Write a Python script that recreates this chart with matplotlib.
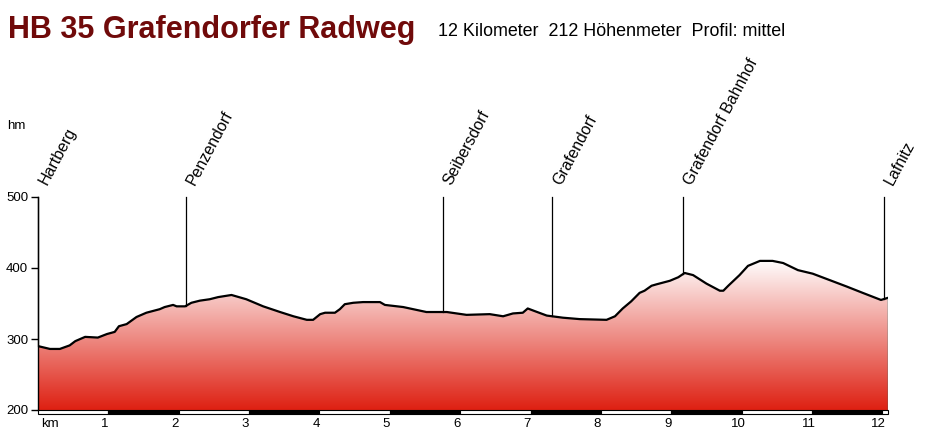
import matplotlib
matplotlib.use("Agg")
import matplotlib.pyplot as plt
import numpy as np
from matplotlib.colors import LinearSegmentedColormap
from matplotlib.patches import Rectangle

plt.rcParams['font.family'] = ['Liberation Sans', 'DejaVu Sans']

# profile data (km, hm)
km = [0.0, 0.17, 0.31, 0.45, 0.53, 0.67, 0.85, 0.98, 1.09, 1.15, 1.26, 1.40,
      1.54, 1.73, 1.80, 1.92, 1.97, 2.09, 2.18, 2.30, 2.44, 2.56, 2.75, 2.96,
      3.20, 3.44, 3.63, 3.82, 3.91, 4.01, 4.08, 4.22, 4.29, 4.36, 4.48, 4.62,
      4.86, 4.93, 5.19, 5.52, 5.81, 6.09, 6.42, 6.61, 6.75, 6.89, 6.96, 7.04,
      7.23, 7.46, 7.70, 8.08, 8.20, 8.31, 8.43, 8.55, 8.62, 8.72, 8.79, 8.98,
      9.10, 9.19, 9.31, 9.50, 9.69, 9.74, 9.81, 9.97, 10.09, 10.26, 10.44,
      10.59, 10.80, 11.01, 11.25, 11.49, 11.72, 11.98, 12.08]
hm = [290, 286, 286, 291, 297, 303, 302, 307, 310, 318, 321, 331,
      337, 342, 345, 348, 346, 346, 351, 354, 356, 359, 362, 356,
      346, 338, 332, 327, 327, 335, 337, 337, 342, 349, 351, 352,
      352, 348, 345, 338, 338, 334, 335, 332, 336, 337, 343, 340,
      333, 330, 328, 327, 332, 343, 353, 365, 368, 375, 377, 382,
      387, 393, 390, 378, 368, 368, 375, 390, 403, 410, 410,
      407, 397, 392, 383, 374, 365, 355, 358]

orte = ["Hartberg", "Penzendorf", "Seibersdorf", "Grafendorf",
        "Grafendorf Bahnhof", "Lafnitz"]
orte_km = [0.0, 2.1, 5.75, 7.31, 9.16, 12.02]

y_ticks = [200, 300, 400, 500]
x_ticks = list(range(1, 13))

km = np.array(km)
hm = np.array(hm)

fig = plt.figure(figsize=(9.38, 4.34), dpi=100)
W, H = 938, 434
ax = fig.add_axes([38 / W, 24 / H, 850 / W, 213 / H])
ax.set_xlim(0, km[-1])
ax.set_ylim(200, 500)

# gradient fill under the profile
cmap = LinearSegmentedColormap.from_list("rw", ["#de2012", "#ffffff"])
grad = np.linspace(0, 1, 256).reshape(-1, 1)
img = ax.imshow(grad, extent=[0, km[-1], 200, 412], origin='lower',
                cmap=cmap, aspect='auto', zorder=1)
poly = ax.fill_between(km, 200, hm, color='none', lw=0)
img.set_clip_path(poly.get_paths()[0], transform=ax.transData)
ax.plot(km, hm, color='black', lw=1.6, zorder=3, solid_joinstyle='round')
ax.plot([km[-1], km[-1]], [200, hm[-1]], color='#008080', lw=1, zorder=3)

# place markers
for name, k in zip(orte, orte_km):
    h = np.interp(k, km, hm)
    ax.plot([k, k], [h, 500], color='black', lw=0.9, zorder=4, clip_on=False)
    ax.text(k + 0.13, 516, name, rotation=62, rotation_mode='anchor',
            ha='left', va='baseline', fontsize=11.5, clip_on=False)

# km band at the bottom
for k in range(0, 13):
    x1 = min(k + 1, km[-1])
    fc = 'black' if k % 2 == 1 else 'white'
    ax.add_patch(Rectangle((k, 194.5), x1 - k, 5.5, facecolor=fc,
                           edgecolor='black', lw=0.8, clip_on=False, zorder=5))

for s in ax.spines.values():
    s.set_visible(False)
ax.plot([0, 0], [200, 500], color='black', lw=1, clip_on=False, zorder=4)
ax.set_yticks(y_ticks)
ax.set_yticklabels([str(v) for v in y_ticks], fontsize=9.5)
ax.tick_params(axis='y', direction='out', length=5, width=1, pad=2)
ax.set_xticks([])
for k in x_ticks:
    ax.text(k - 0.05, 180, str(k), ha='center', va='center', fontsize=9.5)
ax.text(0.05, 180, "km", ha='left', va='center', fontsize=9.5)

fig.text(7 / W, 1 - 126 / H, "hm", fontsize=9.5, va='center', ha='left')
fig.text(8 / W, 1 - 30 / H, "HB 35 Grafendorfer Radweg", fontsize=22,
         fontweight='bold', color='#700a0a', va='center', ha='left')
fig.text(438 / W, 1 - 31 / H, "12 Kilometer  212 Höhenmeter  Profil: mittel",
         fontsize=12.9, va='center', ha='left')

fig.savefig("out.png", dpi=100)
